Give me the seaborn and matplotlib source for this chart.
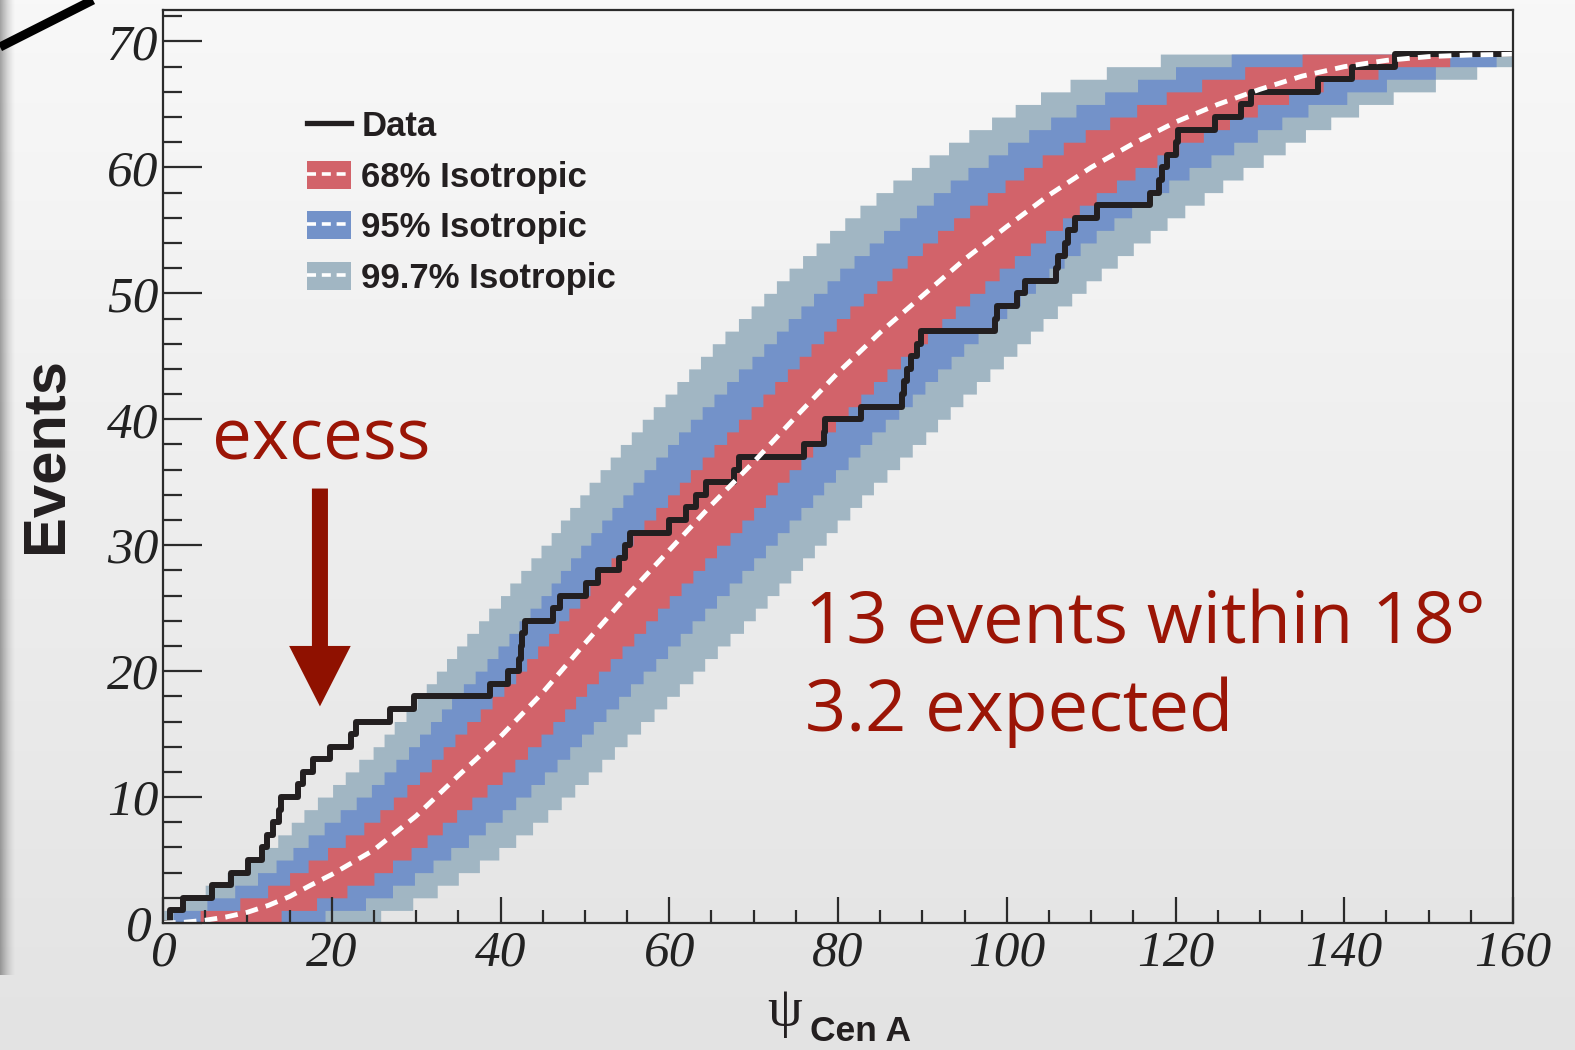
import numpy as np
import matplotlib
matplotlib.use("Agg")
import matplotlib.pyplot as plt
from matplotlib.patches import Patch, FancyArrow
from matplotlib.lines import Line2D
from matplotlib.colors import LinearSegmentedColormap
from matplotlib.transforms import ScaledTranslation
import seaborn as sns

# Angles (deg from Cen A) at which the observed cumulative count rises by one event
data_angles = [0.8, 2.4, 5.8, 8.1, 10.1, 11.7, 12.3, 13.0, 13.8, 14.0,
               16.0, 16.6, 17.8, 19.8, 22.3, 22.9, 26.9, 29.8, 38.7, 40.9,
               42.2, 42.4, 42.6, 42.9, 46.2, 47.0, 50.1, 51.5, 54.1, 54.7,
               55.3, 60.0, 62.0, 63.2, 64.3, 67.7, 68.3, 76.0, 78.3, 78.5,
               82.7, 87.6, 87.8, 88.2, 88.6, 89.4, 89.8, 98.6, 98.8, 101.2,
               102.2, 105.8, 106.1, 106.9, 107.3, 108.1, 110.7, 117.0, 118.0, 118.4,
               119.0, 120.0, 120.3, 124.7, 127.8, 129.0, 136.9, 140.9, 146.0]

# Mean cumulative count expected for an isotropic sky
iso_angle = [0, 2.5, 5, 7.5, 10, 12.5, 15, 17.5, 20, 25, 30, 35, 40, 45, 50, 55, 60,
             65, 70, 75, 80, 85, 90, 95, 100, 105, 110, 115, 120, 125, 130, 135,
             140, 145, 150, 155, 160]
iso_mean = [0, 0.055, 0.22, 0.48, 0.85, 1.40, 2.10, 3.00, 3.85, 5.80, 8.50, 11.70,
            14.80, 18.30, 22.20, 26.00, 29.60, 33.20, 36.60, 40.20, 43.70, 46.90,
            49.80, 52.70, 55.30, 57.80, 60.00, 61.90, 63.60, 65.00, 66.20, 67.25,
            68.00, 68.50, 68.80, 68.93, 68.985]

# Band edges: angle at which each edge steps up to 1, 2, 3, ... events
lo3 = [25.8, 29.6, 32.5, 35.0, 37.5, 39.8, 41.8, 43.8, 45.6, 47.2,
       48.8, 50.4, 52.0, 53.5, 55.0, 56.6, 58.2, 59.7, 61.2, 62.8,
       64.2, 65.7, 67.2, 68.8, 70.2, 71.6, 73.0, 74.4, 75.8, 77.2,
       78.6, 79.9, 81.4, 82.8, 84.2, 85.8, 87.3, 88.8, 90.4, 91.8,
       93.3, 94.8, 96.4, 98.0, 99.6, 101.2, 102.8, 104.3, 106.0, 107.7,
       109.4, 111.2, 113.1, 115.0, 117.0, 119.0, 121.1, 123.4, 125.6, 128.0,
       130.4, 133.0, 135.4, 138.4, 141.7, 145.8, 150.8, 155.7]
lo2 = [19.2, 24.0, 27.2, 29.8, 32.0, 34.1, 36.2, 38.2, 40.2, 41.8,
       43.6, 45.2, 46.7, 48.2, 49.6, 51.0, 52.5, 54.0, 55.4, 56.9,
       58.4, 59.8, 61.3, 62.7, 64.2, 65.6, 67.1, 68.6, 70.0, 71.4,
       72.8, 74.2, 75.6, 77.0, 78.3, 79.7, 81.2, 82.6, 84.0, 85.6,
       87.2, 88.8, 90.3, 91.8, 93.4, 94.9, 96.6, 98.2, 100.0, 101.6,
       103.4, 105.0, 106.8, 108.7, 110.6, 112.7, 114.8, 117.0, 119.2, 121.6,
       124.2, 126.9, 129.7, 132.6, 135.7, 140.3, 145.0, 150.8, 158.0]
lo1 = [14.0, 18.2, 21.8, 25.0, 27.2, 29.4, 31.3, 33.1, 34.8, 36.6,
       38.4, 40.2, 41.7, 43.2, 44.8, 46.2, 47.6, 48.9, 50.2, 51.6,
       53.0, 54.4, 55.8, 57.2, 58.6, 60.0, 61.4, 62.8, 64.2, 65.6,
       67.2, 68.6, 70.0, 71.4, 72.8, 74.2, 75.6, 77.0, 78.4, 79.7,
       81.2, 82.7, 84.2, 85.8, 87.4, 89.0, 90.6, 92.3, 93.9, 95.6,
       97.4, 99.1, 100.9, 102.8, 104.6, 106.6, 108.6, 110.6, 113.0, 115.2,
       117.8, 120.4, 123.3, 126.4, 129.7, 133.4, 137.5, 144.0, 152.5]
hi1 = [4.4, 9.1, 12.4, 15.0, 17.2, 19.5, 21.6, 23.8, 25.7, 27.3,
       28.9, 30.4, 31.8, 33.2, 34.6, 36.0, 37.6, 39.0, 40.4, 41.8,
       43.1, 44.4, 45.7, 46.9, 48.1, 49.4, 50.6, 51.8, 53.1, 54.4,
       55.7, 57.0, 58.4, 59.8, 61.2, 62.5, 63.9, 65.3, 66.8, 68.2,
       69.7, 71.1, 72.5, 74.0, 75.4, 76.8, 78.3, 79.8, 81.4, 83.0,
       84.6, 86.4, 88.2, 90.0, 91.8, 93.7, 95.6, 97.7, 99.8, 102.0,
       104.2, 106.7, 109.3, 112.2, 115.4, 118.9, 123.1, 128.2, 135.0]
hi2 = [1.2, 5.2, 8.5, 11.2, 13.4, 15.4, 17.2, 19.1, 21.0, 22.9,
       24.7, 26.2, 27.6, 29.1, 30.4, 31.7, 33.0, 34.2, 35.6, 37.0,
       38.4, 39.7, 41.0, 42.2, 43.5, 44.8, 46.0, 47.1, 48.3, 49.5,
       50.7, 52.0, 53.2, 54.5, 55.7, 57.0, 58.4, 59.8, 61.1, 62.5,
       63.9, 65.3, 66.8, 68.2, 69.8, 71.2, 72.7, 74.1, 75.6, 77.1,
       78.7, 80.2, 81.9, 83.7, 85.4, 87.3, 89.3, 91.3, 93.3, 95.4,
       97.8, 100.1, 102.6, 105.2, 108.2, 111.6, 115.5, 120.0, 126.6]
hi3 = [0.1, 2.5, 5.0, 7.6, 9.9, 11.8, 13.6, 15.2, 16.7, 18.3,
       20.1, 21.6, 23.2, 24.9, 26.2, 27.4, 28.8, 30.1, 31.2, 32.4,
       33.6, 34.8, 36.0, 37.4, 38.6, 40.0, 41.1, 42.4, 43.6, 44.8,
       46.0, 47.1, 48.2, 49.4, 50.5, 51.8, 53.0, 54.2, 55.5, 56.8,
       58.1, 59.5, 60.9, 62.3, 63.7, 65.1, 66.6, 68.2, 69.7, 71.2,
       72.7, 74.2, 75.8, 77.4, 79.0, 80.8, 82.6, 84.5, 86.5, 88.7,
       90.8, 93.1, 95.5, 98.2, 101.0, 104.0, 107.5, 111.8, 118.2]

band_labels = ["68% Isotropic", "95% Isotropic", "99.7% Isotropic"]
x_ticks = [0, 20, 40, 60, 80, 100, 120, 140, 160]
y_ticks = [0, 10, 20, 30, 40, 50, 60, 70]

RED = "#d2636a"
BLUE = "#7392c9"
GREY = "#a1b6c3"
INK = "#231f20"
TXT = "#9b1506"

fig = plt.figure(figsize=(15.75, 10.5), dpi=100)

# slide-style backdrop: vertical grey gradient with a soft shadow on the left edge
bg = fig.add_axes([0, 0, 1, 1], zorder=-10)
bg.imshow(np.linspace(0, 1, 256)[:, None], aspect="auto", extent=[0, 1, 0, 1],
          origin="lower", cmap=LinearSegmentedColormap.from_list("bg", ["#e3e3e3", "#f8f8f8"]))
shade = np.zeros((1, 64, 4))
shade[..., 3] = np.linspace(0.5, 0.0, 64) ** 1.5
bg.imshow(shade, aspect="auto", extent=[0, 16 / 1575, 75 / 1050, 1], interpolation="bilinear")
bg.set_xlim(0, 1); bg.set_ylim(0, 1)
bg.axis("off")

ax = fig.add_axes([163 / 1575, 1 - 923 / 1050, 1350 / 1575, 913 / 1050])
ax.patch.set_alpha(0)

# staircase bands: each edge counts how many of its step angles lie at or below x
edges = [lo3, lo2, lo1, hi1, hi2, hi3]
step_x = np.unique(np.concatenate([[0.0, 160.0]] + [np.array(e) for e in edges]))

def level(steps):
    return np.searchsorted(np.array(steps), step_x, side="right")

for lo, hi, col in [(lo3, hi3, GREY), (lo2, hi2, BLUE), (lo1, hi1, RED)]:
    ax.fill_between(step_x, level(lo), level(hi), step="post", color=col, linewidth=0)

dx = [0.0] + data_angles + [160.0]
dy = [0] + list(range(1, len(data_angles) + 1)) + [len(data_angles)]
sns.lineplot(x=dx, y=dy, drawstyle="steps-post", estimator=None, sort=False,
             color=INK, linewidth=4.3, ax=ax)
sns.lineplot(x=iso_angle, y=iso_mean, estimator=None, sort=False, color="white",
             linewidth=3.5, linestyle=(0, (2.6, 1.7)), ax=ax)

ax.set_xlim(0, 160)
ax.set_ylim(0, 72.5)
ax.set_xticks(x_ticks)
ax.set_xticks(range(0, 161, 5), minor=True)
ax.set_yticks(y_ticks)
ax.set_yticks(range(0, 73, 2), minor=True)
for s in ax.spines.values():
    s.set_color("#2b2b2b"); s.set_linewidth(1.6)
ax.tick_params(which="both", direction="in", top=False, right=False, width=1.6, color="#2b2b2b")
ax.tick_params(axis="x", which="major", length=19, pad=5)
ax.tick_params(axis="x", which="minor", length=9.5)
ax.tick_params(axis="y", which="major", length=28, pad=3)
ax.tick_params(axis="y", which="minor", length=14)
for lab in ax.get_xticklabels() + ax.get_yticklabels():
    lab.set_family("Liberation Serif"); lab.set_style("italic")
    lab.set_fontsize(37); lab.set_color("#222222")

# nudge the y-axis "0" away from the x-axis "0" in the corner
zero = ax.yaxis.get_major_ticks()[0].label1
zero.set_transform(zero.get_transform() + ScaledTranslation(-0.08, 0.0, fig.dpi_scale_trans))

ax.set_ylabel("Events", fontsize=43, fontweight="bold", family="Liberation Sans", color=INK)
ax.yaxis.set_label_coords(-0.066, 0.5126)
ax.set_xlabel("")
fig.text(785 / 1575, 1 - 1012 / 1050, "ψ", fontsize=40, family="Liberation Serif",
         ha="center", va="center", color=INK)
fig.text(810 / 1575, 1 - 1041 / 1050, "Cen A", fontsize=25.5, fontweight="bold",
         family="Liberation Sans", ha="left", va="baseline", color=INK)

fig.text(212 / 1575, 1 - 460 / 1050, "excess", fontsize=51, family="Open Sans",
         color=TXT, va="baseline")
fig.text(805 / 1575, 1 - 643 / 1050, "13 events within 18°", fontsize=52,
         family="Open Sans", color=TXT, va="baseline")
fig.text(805 / 1575, 1 - 731 / 1050, "3.2 expected", fontsize=52,
         family="Open Sans", color=TXT, va="baseline")
ax.add_patch(FancyArrow(18.6, 34.5, 0, -17.3, width=1.9, head_width=7.3, head_length=4.8,
                        length_includes_head=True, color="#8f1100", linewidth=0))

dash = (0, (2.5, 1.6))
handles = [Line2D([], [], color=INK, lw=3.8)]
for col in [RED, BLUE, GREY]:
    handles.append((Patch(fc=col, lw=0), Line2D([], [], color="white", lw=2.6, ls=dash)))
leg = ax.legend(handles, ["Data"] + band_labels, loc="upper left",
                bbox_to_anchor=(307 / 1575, 1 - 110 / 1050), bbox_transform=fig.transFigure,
                frameon=False, borderpad=0, borderaxespad=0, handlelength=1.26,
                handleheight=0.88, handletextpad=0.3, labelspacing=0.5,
                prop={"family": "Liberation Sans", "weight": "bold", "size": 25})
for t in leg.get_texts():
    t.set_color(INK)

fig.add_artist(Line2D([0, 93 / 1575], [1 - 47 / 1050, 1], transform=fig.transFigure,
                      color="black", lw=6.5, solid_capstyle="butt"))

fig.savefig("out.png", dpi=100)
